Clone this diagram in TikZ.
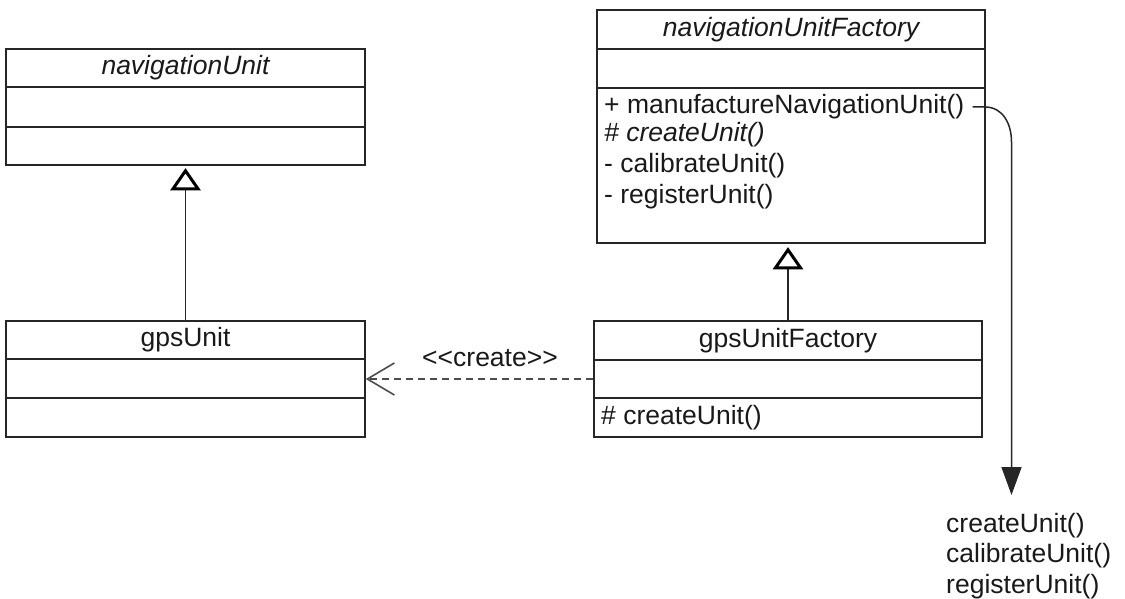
\documentclass[tikz,border=0pt]{standalone}
\usepackage{fontspec}
\setmainfont{Liberation Sans}
\usetikzlibrary{arrows.meta}
\begin{document}
\begin{tikzpicture}[x=1pt,y=-1pt,
  cls/.style={draw=black!85, line width=1.6pt, rectangle, inner sep=0pt},
  txt/.style={font=\fontsize{26.5}{30.5}\selectfont, inner sep=0pt, text=black!90},
  itxt/.style={font=\fontsize{26.5}{30.5}\selectfont\itshape, inner sep=0pt, text=black!90},
  sep/.style={draw=black!85, line width=1.6pt},
  inh/.style={draw=black!85, line width=1.5pt},
  tri/.style={draw=black, line width=3pt, fill=white, line join=miter},
  dep/.style={draw=black!70, line width=1.4pt, dash pattern=on 7pt off 5pt,
    -{Straight Barb[length=27pt,width=32pt,line width=1.6pt]}},
  call/.style={draw=black!85, line width=1.5pt, -{Triangle[length=28pt,width=20pt]}}]
\useasboundingbox (0,0) rectangle (1125,599);

% class boxes
\node[cls, minimum width=359pt, minimum height=116pt] (nu) at (185.5,107) {};
\node[cls, minimum width=359pt, minimum height=116pt] (gu) at (185.5,379) {};
\node[cls, minimum width=388pt, minimum height=233pt] (nuf) at (791,126.5) {};
\node[cls, minimum width=388pt, minimum height=116pt] (guf) at (788,379) {};

% compartments
\draw[sep] (nu.west |- 0,87) -- (nu.east |- 0,87);
\draw[sep] (nu.west |- 0,127) -- (nu.east |- 0,127);
\draw[sep] (gu.west |- 0,359) -- (gu.east |- 0,359);
\draw[sep] (gu.west |- 0,398) -- (gu.east |- 0,398);
\draw[sep] (nuf.west |- 0,49) -- (nuf.east |- 0,49);
\draw[sep] (nuf.west |- 0,88) -- (nuf.east |- 0,88);
\draw[sep] (guf.west |- 0,360) -- (guf.east |- 0,360);
\draw[sep] (guf.west |- 0,398) -- (guf.east |- 0,398);

% titles
\node[itxt] (nut) at (185.5,68) {navigationUnit};
\node[txt] (gut) at (185.5,340) {gpsUnit};
\node[itxt] (nuft) at (791,29.5) {navigationUnitFactory};
\node[txt] (guft) at (788,340.5) {gpsUnitFactory};

% operations
\node[txt, anchor=west] (m1) at (604,107) {+ manufactureNavigationUnit()};
\node[itxt, anchor=west] (m2) at (604,135) {\# createUnit()};
\node[txt, anchor=west] (m3) at (604,166) {- calibrateUnit()};
\node[txt, anchor=west] (m4) at (604,197) {- registerUnit()};
\node[txt, anchor=west] (g1) at (601,418) {\# createUnit()};

% generalisations
\draw[inh] (gu.north) -- ([yshift=-22pt]nu.south);
\draw[tri] ([yshift=-5pt]nu.south) -- ++(-12.5,18) -- ++(25,0) -- cycle;
\draw[inh] (guf.north) -- ([yshift=-22pt]guf.north |- nuf.south);
\draw[tri] ([yshift=-6pt]guf.north |- nuf.south) -- ++(-12.5,18) -- ++(25,0) -- cycle;

% dependency
\draw[dep] (guf.west) -- (gu.east);
\node[txt] (lbl) at (490,358) {{<}{<}create{>}{>}};

% call sequence
\coordinate (tip) at (1011.5,495);
\draw[call] ([xshift=8pt]m1.east) -- (985,107) .. controls (1003,107) and (1011.5,124) .. (1011.5,142) -- (tip);
\node[txt, align=left, anchor=north west] (calls) at (946,513) {createUnit()\\calibrateUnit()\\registerUnit()};
\end{tikzpicture}
\end{document}
